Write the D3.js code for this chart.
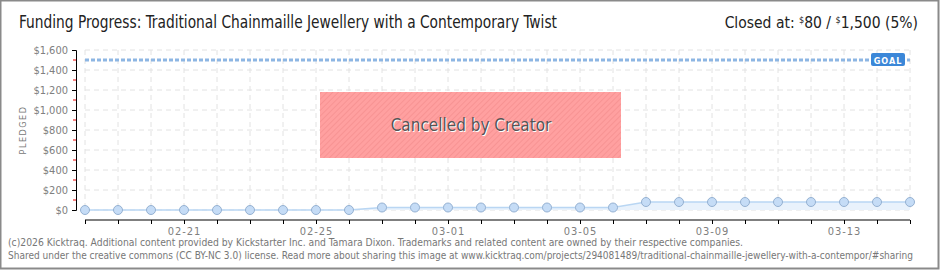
<!DOCTYPE html>
<html>
<head>
<meta charset="utf-8">
<script src="https://cdn.jsdelivr.net/npm/d3@7"></script>
<style>
  body { margin: 0; background: #fff; }
  svg { display: block; }
</style>
</head>
<body>
<svg id="chart" width="940" height="270"></svg>
<script>
// data
let days = ["02-18","02-19","02-20","02-21","02-22","02-23","02-24","02-25","02-26","02-27",
            "02-28","03-01","03-02","03-03","03-04","03-05","03-06","03-07","03-08","03-09",
            "03-10","03-11","03-12","03-13","03-14","03-15"];
let pledged = [0,0,0,0,0,0,0,0,0,25,25,25,25,25,25,25,25,80,80,80,80,80,80,80,80,80];
let xLabels = ["02-21","02-25","03-01","03-05","03-09","03-13"];
let yTicks = [0,200,400,600,800,1000,1200,1400,1600];
let goal = 1500;

let font = "'Liberation Sans Narrow','DejaVu Sans Condensed','Roboto Condensed',sans-serif";
let chart = d3.select("#chart");
let parse = d3.timeParse("%Y-%m-%d");
let dates = days.map(function(d) { return parse("2026-" + d); });

let x = d3.scaleTime()
    .domain(d3.extent(dates))
    .range([85, 910]);
let y = d3.scaleLinear()
    .domain([0, 1600])
    .range([210, 50]);

// frame
chart.append("rect")
    .attr("x", 0.5).attr("y", 0.5).attr("width", 938).attr("height", 268)
    .attr("fill", "#fff").attr("stroke", "#8a8a8a").attr("stroke-width", 2);

// hatch pattern for the cancelled box
let defs = chart.append("defs");
let pat = defs.append("pattern")
    .attr("id", "hatch").attr("width", 4).attr("height", 4)
    .attr("patternUnits", "userSpaceOnUse")
    .attr("patternTransform", "rotate(45)");
pat.append("rect").attr("width", 4).attr("height", 4).attr("fill", "#ffa0a0");
pat.append("line").attr("x1", 0).attr("y1", 0).attr("x2", 0).attr("y2", 4)
    .attr("stroke", "#f79393").attr("stroke-width", 2);

// grid
chart.append("g").selectAll("line")
    .data(dates).enter().append("line")
    .attr("x1", function(d) { return x(d); })
    .attr("x2", function(d) { return x(d); })
    .attr("y1", y(1600)).attr("y2", y(0))
    .attr("stroke", "#e2e2e2").attr("stroke-dasharray", "5,4");
chart.append("g").selectAll("line")
    .data(yTicks).enter().append("line")
    .attr("x1", 85).attr("x2", 910)
    .attr("y1", function(d) { return y(d); })
    .attr("y2", function(d) { return y(d); })
    .attr("stroke", "#e2e2e2").attr("stroke-dasharray", "5,4");

// y axis
let yAxis = d3.axisLeft(y)
    .tickValues(yTicks)
    .tickSize(4)
    .tickFormat(function(d) { return "$" + d3.format(",")(d); });
let yAxisGroup = chart.append("g")
    .attr("transform", "translate(76,0)")
    .call(yAxis);
yAxisGroup.select(".domain").attr("stroke", "#000");
yAxisGroup.selectAll(".tick line").attr("stroke", "#000");
yAxisGroup.selectAll(".tick text")
    .attr("x", -8)
    .style("font-family", font).style("font-size", "11px").attr("fill", "#808080");
// red minor ticks
yAxisGroup.selectAll(".minor")
    .data(d3.range(100, 1600, 200)).enter().append("line")
    .attr("class", "minor")
    .attr("x1", -3).attr("x2", 0)
    .attr("y1", function(d) { return y(d); })
    .attr("y2", function(d) { return y(d); })
    .attr("stroke", "#e00");

chart.append("text")
    .text("PLEDGED")
    .attr("transform", "translate(26,130) rotate(-90)")
    .style("text-anchor", "middle")
    .style("font-family", font).style("font-size", "9px")
    .style("letter-spacing", "1.5px")
    .attr("fill", "#777");

// x axis
let xAxis = d3.axisBottom(x)
    .tickValues(dates)
    .tickSize(4)
    .tickFormat(function(d) {
        let s = d3.timeFormat("%m-%d")(d);
        return xLabels.indexOf(s) >= 0 ? s : "";
    });
let xAxisGroup = chart.append("g")
    .attr("transform", "translate(0,220)")
    .call(xAxis);
xAxisGroup.select(".domain").attr("stroke", "#000").attr("d", "M85,0H910");
xAxisGroup.selectAll(".tick line").attr("stroke", "#000");
xAxisGroup.selectAll(".tick text")
    .attr("y", 7)
    .style("font-family", font).style("font-size", "11px")
    .style("letter-spacing", "1px").attr("fill", "#808080");

// goal line
chart.append("line")
    .attr("x1", 85).attr("x2", 910)
    .attr("y1", y(goal)).attr("y2", y(goal))
    .attr("stroke", "#8db6e3").attr("stroke-width", 3)
    .attr("stroke-dasharray", "4,2");
chart.append("rect")
    .attr("x", 871).attr("y", y(goal) - 7).attr("width", 34).attr("height", 13)
    .attr("rx", 2).attr("fill", "#3b87d8");
chart.append("text")
    .text("GOAL")
    .attr("x", 888).attr("y", y(goal) + 3.5)
    .style("text-anchor", "middle")
    .style("font-family", font).style("font-size", "9px").style("font-weight", "bold")
    .style("letter-spacing", "1px")
    .attr("fill", "#fff");

// area + line
let pts = dates.map(function(d, i) { return { date: d, value: pledged[i] }; });
chart.append("path")
    .datum(pts)
    .attr("fill", "#e9f2fc")
    .attr("d", d3.area()
        .x(function(d) { return x(d.date); })
        .y0(y(0))
        .y1(function(d) { return y(d.value); }));
chart.append("path")
    .datum(pts)
    .attr("fill", "none")
    .attr("stroke", "#b9d6f3")
    .attr("stroke-width", 1.5)
    .attr("d", d3.line()
        .x(function(d) { return x(d.date); })
        .y(function(d) { return y(d.value); }));
chart.append("g").selectAll("circle")
    .data(pts).enter().append("circle")
    .attr("cx", function(d) { return x(d.date); })
    .attr("cy", function(d) { return y(d.value); })
    .attr("r", 4.5)
    .attr("fill", "#c5dcf6")
    .attr("stroke", "#95b1d2").attr("stroke-width", 1);

// cancelled box
chart.append("rect")
    .attr("x", 320).attr("y", 92).attr("width", 301).attr("height", 66)
    .attr("fill", "url(#hatch)");
chart.append("text")
    .text("Cancelled by Creator")
    .attr("x", 471).attr("y", 131)
    .style("text-anchor", "middle")
    .style("font-family", font).style("font-size", "17px")
    .attr("fill", "#fff").attr("transform", "translate(1,1)");
chart.append("text")
    .text("Cancelled by Creator")
    .attr("x", 471).attr("y", 131)
    .style("text-anchor", "middle")
    .style("font-family", font).style("font-size", "17px")
    .attr("fill", "#555");

// titles
chart.append("text")
    .text("Funding Progress: Traditional Chainmaille Jewellery with a Contemporary Twist")
    .attr("x", 19).attr("y", 28)
    .attr("textLength", 538).attr("lengthAdjust", "spacingAndGlyphs")
    .style("font-family", font).style("font-size", "17px")
    .attr("fill", "#222");

let closed = chart.append("text")
    .attr("x", 918).attr("y", 28)
    .style("text-anchor", "end")
    .style("font-family", font).style("font-size", "15.5px")
    .attr("fill", "#222");
closed.append("tspan").text("Closed at:  ");
closed.append("tspan").text("$").style("font-size", "9px").attr("dy", -5);
closed.append("tspan").text("80 /  ").attr("dy", 5);
closed.append("tspan").text("$").style("font-size", "9px").attr("dy", -5);
closed.append("tspan").text("1,500 (5%)").attr("dy", 5);

// footer
chart.append("text")
    .text("(c)2026 Kicktraq. Additional content provided by Kickstarter Inc. and Tamara Dixon. Trademarks and related content are owned by their respective companies.")
    .attr("x", 8).attr("y", 246)
    .attr("textLength", 735).attr("lengthAdjust", "spacingAndGlyphs")
    .style("font-family", font).style("font-size", "10.5px")
    .attr("fill", "#777");
chart.append("text")
    .text("Shared under the creative commons (CC BY-NC 3.0) license. Read more about sharing this image at www.kicktraq.com/projects/294081489/traditional-chainmaille-jewellery-with-a-contempor/#sharing")
    .attr("x", 8).attr("y", 259)
    .attr("textLength", 905).attr("lengthAdjust", "spacingAndGlyphs")
    .style("font-family", font).style("font-size", "9.8px")
    .attr("fill", "#777");
</script>
</body>
</html>
